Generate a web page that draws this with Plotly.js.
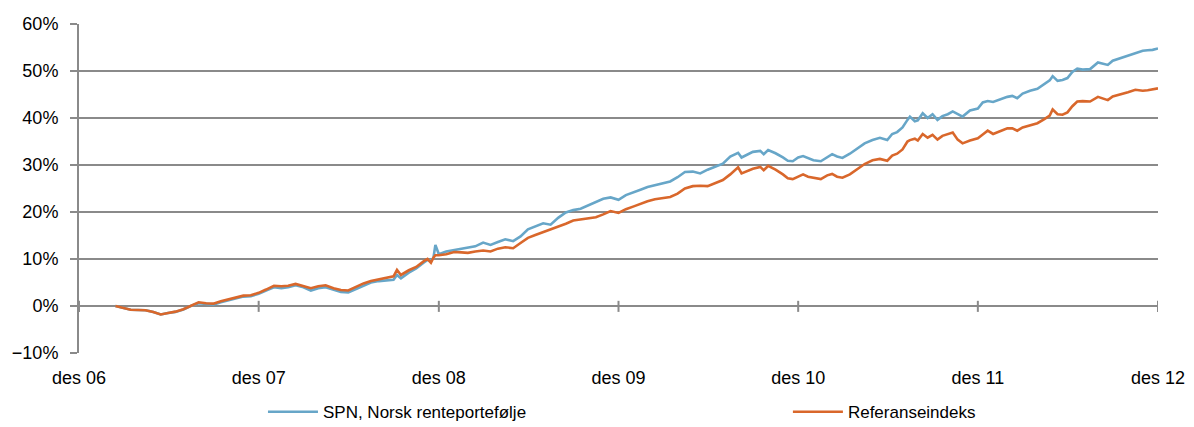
<!DOCTYPE html>
<html>
<head>
<meta charset="utf-8">
<script src="https://cdn.plot.ly/plotly-3.0.1.min.js"></script>
<style>html,body{margin:0;padding:0;background:#fff;}#chart{width:1194px;height:427px;}</style>
</head>
<body>
<div id="chart"></div>
<script>
const dates = [
"2007-03-15","2007-03-31","2007-04-15","2007-04-30","2007-05-15","2007-05-31","2007-06-15","2007-06-30",
"2007-07-15","2007-07-31","2007-08-15","2007-08-31","2007-09-15","2007-09-30","2007-10-15","2007-10-31",
"2007-11-15","2007-11-30","2007-12-15","2007-12-31",
"2008-01-15","2008-01-31","2008-02-15","2008-02-29","2008-03-15","2008-03-31","2008-04-15","2008-04-30",
"2008-05-15","2008-05-31","2008-06-15","2008-06-30","2008-07-15","2008-07-31","2008-08-15","2008-08-31",
"2008-09-15","2008-09-30","2008-10-07","2008-10-15","2008-10-31","2008-11-15","2008-11-30","2008-12-08",
"2008-12-15","2008-12-20","2008-12-24","2008-12-31",
"2009-01-15","2009-01-31","2009-02-15","2009-02-28","2009-03-15","2009-03-31","2009-04-15","2009-04-30",
"2009-05-15","2009-05-31","2009-06-15","2009-06-30","2009-07-15","2009-07-31","2009-08-15","2009-08-31",
"2009-09-15","2009-09-30","2009-10-15","2009-10-31","2009-11-15","2009-11-30","2009-12-15","2009-12-31",
"2010-01-15","2010-01-31","2010-02-15","2010-02-28","2010-03-15","2010-03-31","2010-04-15","2010-04-30",
"2010-05-15","2010-05-31","2010-06-15","2010-06-30","2010-07-15","2010-07-31","2010-08-15","2010-08-31",
"2010-09-07","2010-09-15","2010-09-30","2010-10-15","2010-10-22","2010-10-31","2010-11-15","2010-11-30",
"2010-12-10","2010-12-20","2010-12-31",
"2011-01-10","2011-01-20","2011-01-31","2011-02-15","2011-02-28","2011-03-10","2011-03-20","2011-03-31",
"2011-04-15","2011-04-30","2011-05-15","2011-05-31","2011-06-15","2011-06-30","2011-07-10","2011-07-20",
"2011-07-31","2011-08-10","2011-08-15","2011-08-25","2011-08-31","2011-09-10","2011-09-20","2011-09-30",
"2011-10-10","2011-10-20","2011-10-31","2011-11-10","2011-11-20","2011-11-30","2011-12-15","2011-12-31",
"2012-01-10","2012-01-20","2012-01-31","2012-02-15","2012-02-29","2012-03-10","2012-03-20","2012-03-31",
"2012-04-15","2012-04-30","2012-05-15","2012-05-25","2012-05-31","2012-06-10","2012-06-20","2012-06-30",
"2012-07-10","2012-07-20","2012-07-31","2012-08-15","2012-08-31","2012-09-10","2012-09-20","2012-09-30",
"2012-10-15","2012-10-31","2012-11-15","2012-11-30","2012-12-10","2012-12-20","2012-12-31"
];

const spn = [
0,-0.4,-0.8,-0.85,-0.9,-1.3,-1.8,-1.5,
-1.25,-0.75,0.0,0.6,0.4,0.3,0.8,1.2,
1.65,2.0,2.1,2.6,
3.3,4.0,3.8,4.0,4.4,4.0,3.3,3.8,
4.0,3.4,3.0,2.9,3.6,4.4,5.0,5.3,
5.5,5.6,6.6,5.9,7.1,8.0,9.2,9.8,
9.8,10.2,13.0,11.0,
11.6,11.9,12.3,12.5,12.7,13.5,13.0,13.6,
14.2,13.8,14.8,16.3,16.9,17.6,17.3,18.8,
19.9,20.4,20.7,21.4,22.0,22.8,23.1,22.6,
23.6,24.3,24.8,25.3,25.7,26.0,26.5,27.4,
28.5,28.6,28.2,29.0,29.6,30.3,31.8,32.6,
31.6,32.0,32.8,33.0,32.3,33.2,32.5,31.6,
30.9,30.8,31.6,
31.9,31.4,31.0,30.8,31.6,32.3,31.8,31.5,
32.4,33.6,34.6,35.3,35.8,35.3,36.6,37.0,
38.0,39.6,40.3,39.3,39.5,41.0,40.0,40.8,
39.6,40.4,40.8,41.4,40.8,40.3,41.6,42.0,
43.3,43.6,43.4,44.0,44.5,44.7,44.2,45.2,
45.8,46.2,47.3,48.0,48.9,47.9,48.1,48.5,
49.8,50.5,50.3,50.4,51.8,51.6,51.3,52.2,
52.7,53.2,53.8,54.3,54.4,54.5,54.8
];

const ref = [
0,-0.4,-0.8,-0.85,-0.9,-1.3,-1.8,-1.5,
-1.2,-0.7,0.1,0.8,0.6,0.5,1.0,1.4,
1.85,2.2,2.3,2.8,
3.5,4.3,4.2,4.3,4.7,4.3,3.8,4.2,
4.4,3.8,3.4,3.3,4.0,4.8,5.3,5.6,
5.9,6.3,7.7,6.6,7.6,8.3,9.5,10.0,
9.2,10.3,10.8,10.8,
11.0,11.5,11.4,11.3,11.6,11.8,11.6,12.2,
12.5,12.3,13.4,14.5,15.1,15.7,16.3,16.8,
17.5,18.2,18.4,18.7,18.9,19.5,20.2,19.8,
20.6,21.2,21.8,22.3,22.7,22.9,23.2,23.9,
25.0,25.5,25.6,25.5,26.2,26.8,28.0,29.5,
28.2,28.6,29.2,29.6,28.9,29.8,29.0,28.0,
27.2,27.0,27.6,
28.0,27.5,27.3,27.0,27.8,28.1,27.5,27.3,
28.0,29.2,30.2,31.0,31.3,30.9,32.0,32.4,
33.3,35.0,35.3,35.6,35.2,36.6,35.8,36.4,
35.4,36.2,36.6,36.9,35.4,34.6,35.2,35.7,
36.5,37.3,36.6,37.3,37.8,37.8,37.3,38.0,
38.5,38.9,39.8,40.5,41.8,40.8,40.7,41.2,
42.5,43.5,43.6,43.5,44.5,44.2,43.8,44.6,
45.0,45.5,46.0,45.8,45.9,46.1,46.3
];

const tickDates = ["2006-12-31","2007-12-31","2008-12-31","2009-12-31","2010-12-31","2011-12-31","2012-12-31"];
const tickLabels = ["des 06","des 07","des 08","des 09","des 10","des 11","des 12"];
const seriesNames = ["SPN, Norsk renteportefølje","Referanseindeks"];

const gridColor = "#8a8a8a";
const fontFam = "'Liberation Sans', Arial, sans-serif";

const traces = [
  {x: dates, y: spn, name: seriesNames[0], type: "scatter", mode: "lines",
   line: {color: "#67a6c8", width: 2.6}, legend: "legend"},
  {x: dates, y: ref, name: seriesNames[1], type: "scatter", mode: "lines",
   line: {color: "#d9672b", width: 2.6}, legend: "legend2"}
];

const tickShapes = tickDates.map(d => ({
  type: "line", xref: "x", yref: "y", x0: d, x1: d, y0: -1.25, y1: 1.1,
  line: {color: gridColor, width: 2}, layer: "below"
}));

const legendBase = {orientation: "h", xanchor: "left", yanchor: "middle", y: -0.18,
  itemwidth: 50, font: {size: 17, color: "#000"}, bgcolor: "rgba(0,0,0,0)"};

const layout = {
  width: 1194, height: 427,
  margin: {l: 79, r: 36, t: 24, b: 74, autoexpand: false},
  paper_bgcolor: "#fff", plot_bgcolor: "#fff",
  font: {family: fontFam, size: 18, color: "#000"},
  showlegend: true,
  legend: Object.assign({}, legendBase, {x: 0.1705}),
  legend2: Object.assign({}, legendBase, {x: 0.657}),
  xaxis: {type: "date", range: ["2006-12-31", "2012-12-31"],
          tickmode: "array", tickvals: tickDates, ticktext: tickLabels,
          ticks: "", showgrid: false, zeroline: false, showline: false,
          ticklabelstandoff: 12, automargin: false, fixedrange: true},
  yaxis: {range: [-10, 60], tickmode: "linear", tick0: -10, dtick: 10, ticksuffix: "%",
          showgrid: true, gridcolor: gridColor, gridwidth: 2,
          zeroline: false, showline: true, linecolor: gridColor, linewidth: 2,
          ticks: "outside", ticklen: 7, tickwidth: 2, tickcolor: gridColor,
          ticklabelstandoff: 8, automargin: false, fixedrange: true},
  shapes: tickShapes
};

Plotly.newPlot("chart", traces, layout, {displayModeBar: false, staticPlot: true});
</script>
</body>
</html>
